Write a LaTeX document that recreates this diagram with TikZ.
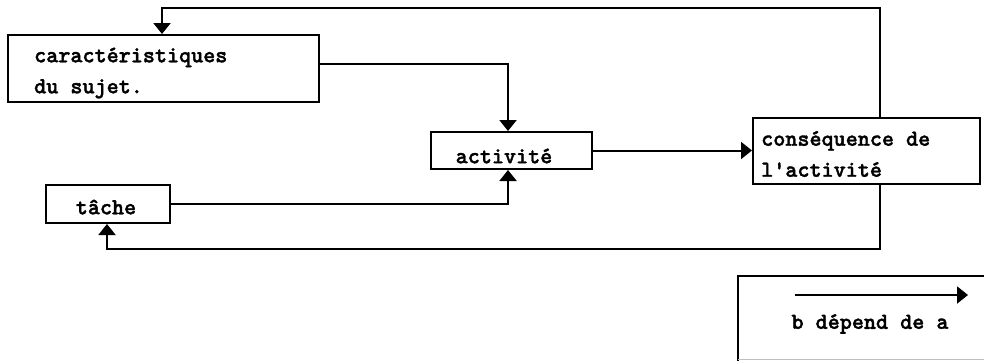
\documentclass[tikz,border=0pt]{standalone}
\usepackage{fontspec}
\newfontfamily\labfont{lmmonolt10-bold.otf}[FakeBold=1.6]
\usetikzlibrary{arrows.meta}
\tikzset{
  box/.style={draw=black, line width=2pt, rectangle, inner sep=0pt},
  txt/.style={font=\labfont\fontsize{23}{31}\selectfont, inner sep=0pt, align=left},
  arr/.style={line width=2pt, -{Triangle[width=17pt,length=11pt]}},
  conn/.style={line width=2pt}
}
\begin{document}
\begin{tikzpicture}[x=1pt,y=-1pt]
\useasboundingbox (0,0) rectangle (984,360);
\fill[white] (0,0) rectangle (984,360);
% boxes
\node[box, minimum width=311pt, minimum height=67pt] (car) at (163.5,68.5) {};
\node[box, minimum width=161pt, minimum height=37pt] (act) at (511.5,150.5) {};
\node[box, minimum width=227pt, minimum height=66pt] (cons) at (866.5,151) {};
\node[box, minimum width=124pt, minimum height=38pt] (tache) at (108,204) {};
% texts
\node[txt, anchor=west] (tcar) at (34,73) {caractéristiques\\du sujet.};
\node[txt] (tact) at (504,156) {activité};
\node[txt, anchor=west] (tcons) at (761,154) {conséquence de\\l\char"0027activité};
\node[txt] (ttache) at (106,207) {tâche};
% connectors
\coordinate (ta) at (880,8);
\coordinate (tb) at (162,8);
\draw[arr] (cons.north -| ta) -- (ta) -- (tb) -- (tb |- car.north);
\coordinate (ca) at (508,64);
\draw[arr] (car.east |- ca) -- (ca) -- (ca |- act.north);
\coordinate (ka) at (508,204);
\draw[arr] (tache.east |- ka) -- (ka) -- (ka |- act.south);
\draw[arr] (act.east) -- (act.east -| cons.west);
\coordinate (ba) at (880,249);
\coordinate (bb) at (107,249);
\draw[arr] (cons.south -| ba) -- (ba) -- (bb) -- (bb |- tache.south);
% legend
\draw[line width=2pt] (990,276) -- (738,276) -- (738,361);
\draw[line width=1pt, black!25] (738,359.5) -- (990,359.5);
\coordinate (la) at (795,295);
\coordinate (lb) at (968,295);
\draw[arr] (la) -- (lb);
\node[txt] (tleg) at (870,324) {b dépend de a};
\end{tikzpicture}
\end{document}
